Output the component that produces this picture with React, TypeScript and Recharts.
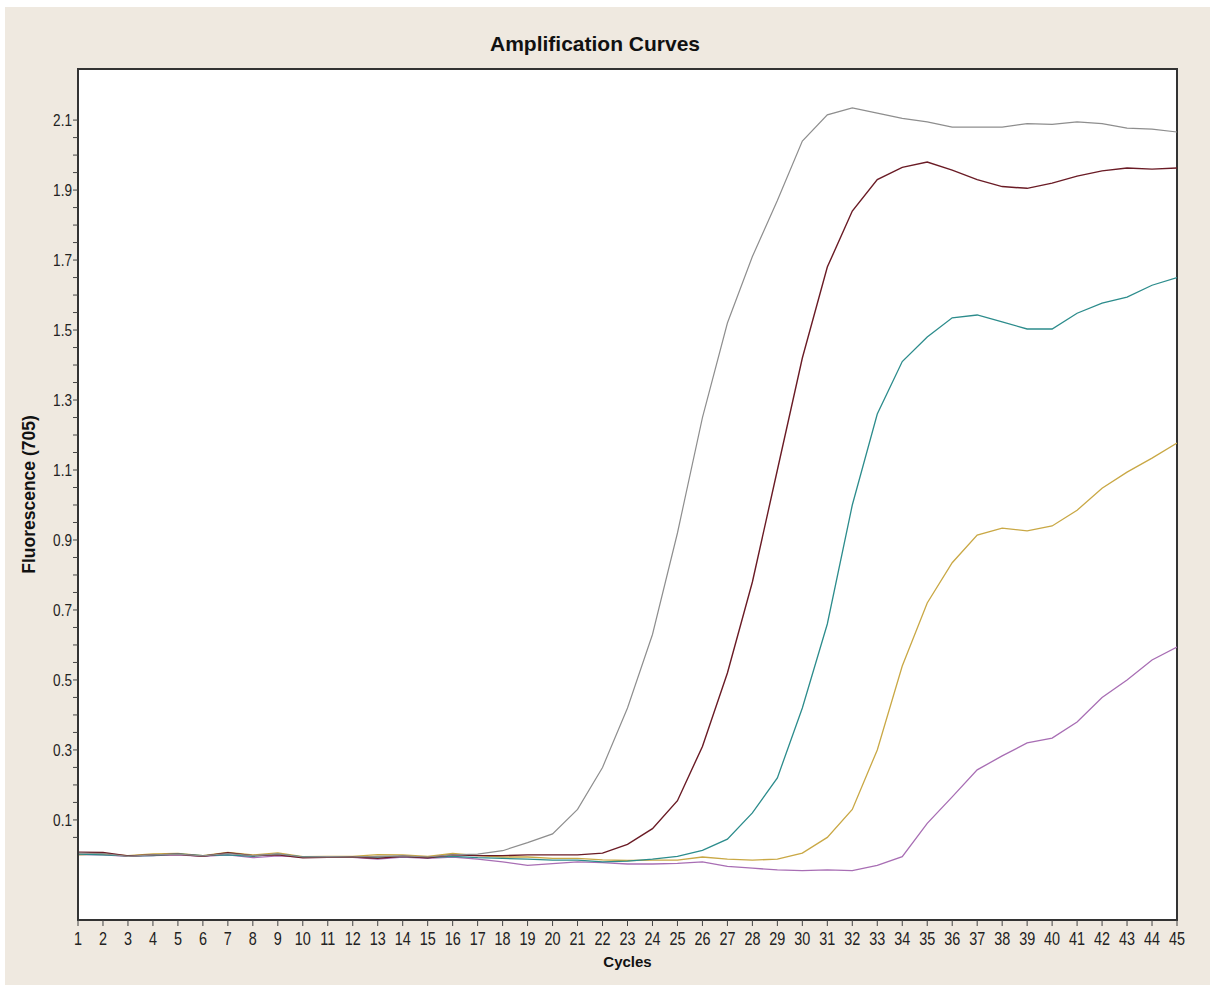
import React from "react";
import {
  LineChart,
  Line,
  XAxis,
  YAxis,
  ReferenceArea,
} from "recharts";

// qPCR amplification curves, fluorescence channel 705
const cycles = [
  1, 2, 3, 4, 5, 6, 7, 8, 9, 10, 11, 12, 13, 14, 15, 16, 17, 18, 19, 20, 21, 22,
  23, 24, 25, 26, 27, 28, 29, 30, 31, 32, 33, 34, 35, 36, 37, 38, 39, 40, 41, 42,
  43, 44, 45,
];

const sampleGray = [
  0.005, 0.004, -0.004, 0.0, 0.002, -0.003, 0.004, -0.002, 0.003, -0.006, -0.005,
  -0.006, -0.004, -0.003, -0.006, 0.0, 0.002, 0.012, 0.035, 0.06, 0.13, 0.25,
  0.42, 0.63, 0.92, 1.25, 1.52, 1.71, 1.87, 2.04, 2.115, 2.135, 2.12, 2.105,
  2.095, 2.08, 2.08, 2.08, 2.09, 2.088, 2.095, 2.09, 2.077, 2.074, 2.066,
];

const sampleMaroon = [
  0.008, 0.007, -0.003, 0.0, 0.002, -0.004, 0.006, -0.002, 0.0, -0.008, -0.007,
  -0.006, -0.01, -0.004, -0.008, 0.0, -0.002, -0.002, 0.0, 0.0, 0.0, 0.005, 0.03,
  0.075, 0.155, 0.31, 0.52, 0.78, 1.1, 1.42, 1.68, 1.84, 1.93, 1.965, 1.98,
  1.957, 1.93, 1.91, 1.905, 1.92, 1.94, 1.955, 1.963, 1.96, 1.963,
];

const sampleTeal = [
  0.002, 0.0, -0.003, -0.002, 0.003, -0.002, 0.0, -0.004, 0.002, -0.006, -0.005,
  -0.007, -0.006, -0.004, -0.008, -0.004, -0.008, -0.01, -0.012, -0.015, -0.015,
  -0.02, -0.018, -0.012, -0.004, 0.013, 0.045, 0.12, 0.22, 0.42, 0.66, 1.0, 1.26,
  1.41, 1.48, 1.535, 1.543, 1.523, 1.503, 1.503, 1.548, 1.577, 1.594, 1.628,
  1.65,
];

const sampleGold = [
  0.0, 0.003, -0.002, 0.003, 0.004, -0.002, 0.007, 0.0, 0.006, -0.005, -0.004,
  -0.004, 0.001, 0.0, -0.004, 0.004, -0.002, -0.006, -0.006, -0.01, -0.01,
  -0.014, -0.016, -0.015, -0.015, -0.006, -0.012, -0.015, -0.012, 0.005, 0.05,
  0.13, 0.3, 0.54, 0.72, 0.835, 0.914, 0.934, 0.926, 0.94, 0.985, 1.048, 1.094,
  1.134, 1.177,
];

const samplePurple = [
  0.001, 0.0, -0.004, -0.002, 0.0, -0.004, 0.0, -0.008, -0.003, -0.006, -0.006,
  -0.007, -0.012, -0.006, -0.01, -0.006, -0.012, -0.02, -0.03, -0.025, -0.02,
  -0.022, -0.026, -0.026, -0.024, -0.02, -0.033, -0.038, -0.043, -0.045, -0.043,
  -0.045, -0.03, -0.005, 0.09, 0.166, 0.243, 0.283, 0.32, 0.334, 0.38, 0.45,
  0.5, 0.557, 0.594,
];

// minor ticks every 0.05, labels every 0.2
const yTicks = [
  0.05, 0.1, 0.15, 0.2, 0.25, 0.3, 0.35, 0.4, 0.45, 0.5, 0.55, 0.6, 0.65, 0.7,
  0.75, 0.8, 0.85, 0.9, 0.95, 1.0, 1.05, 1.1, 1.15, 1.2, 1.25, 1.3, 1.35, 1.4,
  1.45, 1.5, 1.55, 1.6, 1.65, 1.7, 1.75, 1.8, 1.85, 1.9, 1.95, 2.0, 2.05, 2.1,
];
const yLabels = ["0.1", "0.3", "0.5", "0.7", "0.9", "1.1", "1.3", "1.5", "1.7", "1.9", "2.1"];

const Y_MIN = -0.186;
const Y_MAX = 2.246;

const data = cycles.map((c, i) => ({
  cycle: c,
  gray: sampleGray[i],
  maroon: sampleMaroon[i],
  teal: sampleTeal[i],
  gold: sampleGold[i],
  purple: samplePurple[i],
}));

const sans = "'Liberation Sans', Arial, sans-serif";

// narrow-looking tick text: regular sans squeezed horizontally
function XTick(props: any) {
  const { x, y, payload } = props;
  return (
    <g transform={`translate(${x},${y})`}>
      <text
        transform="scale(0.8,1)"
        textAnchor="middle"
        dy={18}
        fontFamily={sans}
        fontSize={18}
        fill="#222"
      >
        {payload.value}
      </text>
    </g>
  );
}

function YTick(props: any) {
  const { x, y, payload } = props;
  const s = Number(payload.value).toFixed(1);
  const show = yLabels.includes(s) && Math.abs(payload.value - Number(s)) < 0.001;
  if (!show) return <g />;
  return (
    <g transform={`translate(${x},${y})`}>
      <text
        transform="scale(0.8,1)"
        textAnchor="end"
        dy={6}
        fontFamily={sans}
        fontSize={17}
        fill="#222"
      >
        {s}
      </text>
    </g>
  );
}

export default function App() {
  return (
    <div
      style={{
        position: "absolute",
        left: 0,
        top: 0,
        width: 1210,
        height: 985,
        background: "#fff",
      }}
    >
      <div
        style={{
          position: "absolute",
          left: 5,
          top: 7,
          right: 0,
          bottom: 0,
          background: "#efe9e0",
        }}
      />
      <div
        style={{
          position: "absolute",
          left: 0,
          top: 33,
          width: 1190,
          textAlign: "center",
          fontFamily: sans,
          fontWeight: 700,
          fontSize: 21,
          lineHeight: "21px",
          color: "#111",
        }}
      >
        Amplification Curves
      </div>
      <div style={{ position: "absolute", left: 0, top: 0 }}>
        <LineChart
          width={1210}
          height={985}
          data={data}
          margin={{ top: 69, right: 33, left: 18, bottom: 15 }}
        >
          <ReferenceArea
            x1={1}
            x2={45}
            y1={Y_MIN}
            y2={Y_MAX}
            fill="#fff"
            fillOpacity={1}
            stroke="#333"
            strokeWidth={2}
            ifOverflow="visible"
          />
          <XAxis
            dataKey="cycle"
            type="number"
            domain={[1, 45]}
            ticks={cycles}
            interval={0}
            allowDataOverflow
            height={50}
            tickSize={6}
            tickMargin={1}
            axisLine={{ stroke: "#333", strokeWidth: 2 }}
            tickLine={{ stroke: "#444" }}
            tick={<XTick />}
            label={{
              value: "Cycles",
              position: "insideBottom",
              offset: 3,
              style: { fontFamily: sans, fontWeight: 700, fontSize: 15, fill: "#111" },
            }}
          />
          <YAxis
            type="number"
            domain={[Y_MIN, Y_MAX]}
            ticks={yTicks}
            interval={0}
            allowDataOverflow
            width={60}
            tickSize={5}
            tickMargin={1}
            axisLine={{ stroke: "#333", strokeWidth: 2 }}
            tickLine={{ stroke: "#444" }}
            tick={<YTick />}
            label={{
              value: "Fluorescence (705)",
              angle: -90,
              position: "insideLeft",
              offset: 11,
              style: {
                textAnchor: "middle",
                fontFamily: sans,
                fontWeight: 700,
                fontSize: 17.5,
                fill: "#111",
              },
            }}
          />
          <Line type="linear" dataKey="purple" stroke="#a86eb4" strokeWidth={1.3} dot={false} isAnimationActive={false} />
          <Line type="linear" dataKey="gold" stroke="#c9a845" strokeWidth={1.3} dot={false} isAnimationActive={false} />
          <Line type="linear" dataKey="teal" stroke="#2c8c8c" strokeWidth={1.3} dot={false} isAnimationActive={false} />
          <Line type="linear" dataKey="maroon" stroke="#6a1b25" strokeWidth={1.4} dot={false} isAnimationActive={false} />
          <Line type="linear" dataKey="gray" stroke="#8e8e8e" strokeWidth={1.2} dot={false} isAnimationActive={false} />
        </LineChart>
      </div>
    </div>
  );
}
